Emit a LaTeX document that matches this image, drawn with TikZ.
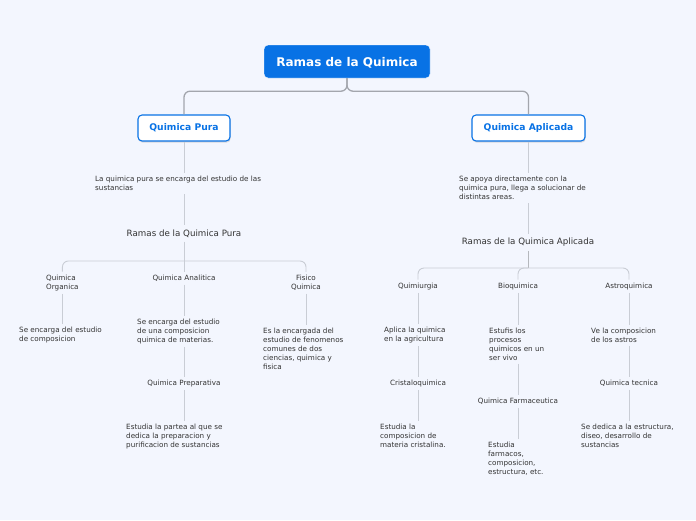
\documentclass[tikz,border=0pt]{standalone}
\usepackage{fontspec}
\setmainfont{DejaVu Sans}
\usetikzlibrary{shadows}
\definecolor{bgc}{HTML}{F3F6FE}
\definecolor{topblue}{HTML}{0872E5}
\definecolor{txt}{HTML}{333333}
\definecolor{mainln}{HTML}{A3A6AD}
\definecolor{subln}{HTML}{C9CDD5}

\begin{document}
\begin{tikzpicture}[x=1pt,y=-1pt,font=\fontsize{7.2}{9}\selectfont,text=txt,
 root/.style={fill=topblue,draw=white,thin,rounded corners=4pt,minimum width=166pt,minimum height=33pt,text depth=0pt,text=white,font=\fontsize{12}{14}\selectfont\bfseries},
 branch/.style={fill=white,draw=topblue,line width=1.1pt,rounded corners=4pt,minimum height=26pt,text=topblue,font=\fontsize{9.2}{11}\selectfont\bfseries,drop shadow={opacity=0.25,shadow xshift=0.6pt,shadow yshift=-1.6pt}},
 sub/.style={font=\fontsize{8.7}{10}\selectfont,inner sep=4pt,yshift=-1.5pt},
 leaf/.style={align=center,inner sep=3pt,yshift=-1.2pt},
 desc/.style={align=left,anchor=west,inner sep=3pt,yshift=-1.2pt},
 mainlink/.style={draw=mainln,line width=1.3pt,rounded corners=6pt},
 link/.style={draw=subln,line width=0.9pt,rounded corners=6pt}]
\fill[bgc] (0,0) rectangle (696,520);
\useasboundingbox (0,0) rectangle (696,520);

% top level
\node[root] (rq) at (347,61.5) {Ramas de la Quimica};
\node[branch,minimum width=92pt] (pura) at (184,128) {Quimica Pura};
\node[branch,minimum width=113pt] (apl) at (528.5,128) {Quimica Aplicada};
\draw[mainlink] (rq.south) -- ++(0,13) -| (pura.north);
\draw[mainlink] (rq.south) -- ++(0,13) -| (apl.north);

% quimica pura
\node[desc] (purad) at (92,182.5) {La quimica pura se encarga del estudio de las\\sustancias};
\node[sub] (rqp) at (184,232) {Ramas de la Quimica Pura};
\coordinate (bp) at (184,261);
\node[leaf,align=left,anchor=west] (org) at (43,281.5) {Quimica\\Organica};
\node[leaf] (ana) at (184,277) {Quimica Analitica};
\node[leaf] (fis) at (306,281.5) {Fisico\\Quimica};
\node[desc] (orgd) at (16,333.5) {Se encarga del estudio\\de composicion};
\node[desc] (anad) at (134,330) {Se encarga del estudio\\de una composicion\\quimica de materias.};
\node[leaf] (prep) at (184,382) {Quimica Preparativa};
\node[desc] (prepd) at (123,435) {Estudia la partea al que se\\dedica la preparacion y\\purificacion de sustancias};
\node[desc] (fisd) at (260,347.5) {Es la encargada del\\estudio de fenomenos\\comunes de dos\\ciencias, quimica y\\fisica};

\draw[link] (pura.south) -- (pura.south |- purad.north);
\draw[link] (rqp.north |- purad.south) -- (rqp.north);
\draw[link] (rqp.south) -- (bp);
\draw[link] (bp) -| (org.north);
\draw[link] (bp) -- (ana.north);
\draw[link] (bp) -| (fis.north);
\draw[link] (org.south) -- (org.south |- orgd.north);
\draw[link] (ana.south) -- (ana.south |- anad.north);
\draw[link] (prep.north |- anad.south) -- (prep.north);
\draw[link] (prep.south) -- (prep.south |- prepd.north);
\draw[link] (fis.south) -- (fis.south |- fisd.north);

% quimica aplicada
\node[desc] (apld) at (456,187) {Se apoya directamente con la\\quimica pura, llega a solucionar de\\distintas areas.};
\node[sub] (rqa) at (528,241) {Ramas de la Quimica Aplicada};
\coordinate (ap) at (528,268);
\node[leaf] (qmu) at (418,285) {Quimiurgia};
\node[leaf] (bio) at (518,285) {Bioquimica};
\node[leaf] (ast) at (629,285) {Astroquimica};
\node[desc] (qmud) at (381,334) {Aplica la quimica\\en la agricultura};
\node[leaf] (cri) at (418,382) {Cristaloquimica};
\node[desc] (crid) at (377,435) {Estudia la\\composicion de\\materia cristalina.};
\node[desc] (biod) at (486,343) {Estufis los\\procesos\\quimicos en un\\ser vivo};
\node[leaf] (far) at (518,400) {Quimica Farmaceutica};
\node[desc] (fard) at (485,457.5) {Estudia\\farmacos,\\composicion,\\estructura, etc.};
\node[desc] (astd) at (588,334) {Ve la composicion\\de los astros};
\node[leaf] (tec) at (629,382) {Quimica tecnica};
\node[desc] (tecd) at (578,435) {Se dedica a la estructura,\\diseo, desarrollo de\\sustancias};

\draw[link] (apl.south) -- (apl.south |- apld.north);
\draw[link] (rqa.north |- apld.south) -- (rqa.north);
\draw[link,draw=mainln!80] (rqa.south) -- (ap);
\draw[link] (ap) -| (qmu.north);
\draw[link] (ap) -| (bio.north);
\draw[link] (ap) -| (ast.north);
\draw[link] (qmu.south) -- (qmu.south |- qmud.north);
\draw[link] (cri.north |- qmud.south) -- (cri.north);
\draw[link] (cri.south) -- (cri.south |- crid.north);
\draw[link] (bio.south) -- (bio.south |- biod.north);
\draw[link] (far.north |- biod.south) -- (far.north);
\draw[link] (far.south) -- (far.south |- fard.north);
\draw[link] (ast.south) -- (ast.south |- astd.north);
\draw[link] (tec.north |- astd.south) -- (tec.north);
\draw[link] (tec.south) -- (tec.south |- tecd.north);
\end{tikzpicture}
\end{document}
